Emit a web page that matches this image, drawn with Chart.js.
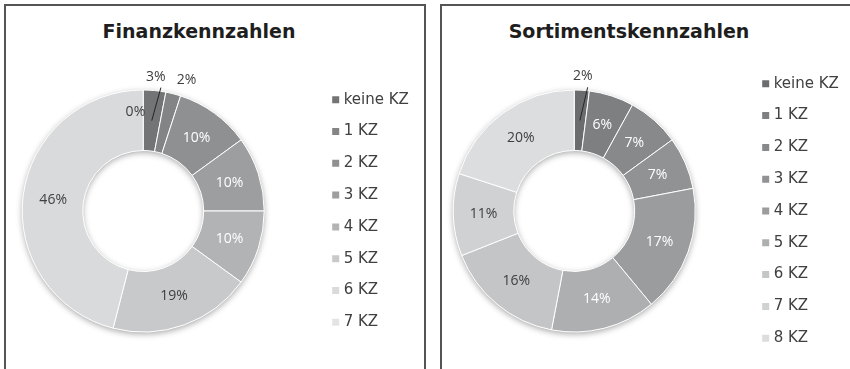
<!DOCTYPE html>
<html lang="de">
<head>
<meta charset="utf-8">
<title>Kennzahlen</title>
<script src="https://cdn.jsdelivr.net/npm/chart.js@4.4.0/dist/chart.umd.min.js"></script>
<style>
  html, body { margin: 0; padding: 0; background: #fff; width: 850px; height: 369px; overflow: hidden; position: relative; }
  .panel { position: absolute; top: 4px; height: 420px; border: 2px solid #555; box-sizing: border-box; }
  #panelFin { left: 4px; width: 422px; }
  #panelSort { left: 440px; width: 420px; }
  .title { position: absolute; top: 21px; transform: translateX(-50%); font: bold 19px "DejaVu Sans", Verdana, sans-serif; line-height: 20px; color: #1e1e1e; white-space: nowrap; }
  canvas { position: absolute; }
</style>
</head>
<body>
<div class="panel" id="panelFin"></div>
<div class="panel" id="panelSort"></div>
<div class="title" style="left:199px">Finanzkennzahlen</div>
<div class="title" style="left:629px">Sortimentskennzahlen</div>
<canvas id="finChart"></canvas>
<canvas id="sortChart"></canvas>
<script>
// Anteile in Prozent
const finLabels = ['keine KZ', '1 KZ', '2 KZ', '3 KZ', '4 KZ', '5 KZ', '6 KZ', '7 KZ'];
const finValues = [3, 2, 10, 10, 10, 19, 46, 0];

const sortLabels = ['keine KZ', '1 KZ', '2 KZ', '3 KZ', '4 KZ', '5 KZ', '6 KZ', '7 KZ', '8 KZ'];
const sortValues = [2, 6, 7, 7, 17, 14, 16, 11, 20];

const finColors = ['#737476', '#838486', '#8f9092', '#9d9ea0', '#b2b3b5', '#c8c9cb', '#d9dadb', '#e3e4e5'];
const sortColors = ['#6b6c6e', '#7e7f81', '#88898b', '#919294', '#9b9c9e', '#aeafb1', '#c4c5c7', '#d0d1d3', '#dcdddf'];

const LEGEND_FONT = { family: '"DejaVu Sans", Verdana, sans-serif', size: 15 };
const LEGEND_PAD = 16.8;

function isDark(hex) {
    return parseInt(hex.slice(1, 3), 16) < 0xb8;
}

// Schatten unter dem Ring
const ringShadow = {
    id: 'ringShadow',
    beforeDatasetsDraw(chart) {
        const arc = chart.getDatasetMeta(0).data[0];
        if (!arc) return;
        const { x, y, innerRadius, outerRadius } = arc.getProps(['x', 'y', 'innerRadius', 'outerRadius'], true);
        const ctx = chart.ctx;
        ctx.save();
        ctx.shadowColor = 'rgba(0, 0, 0, 0.35)';
        ctx.shadowBlur = 6;
        ctx.shadowOffsetY = 2;
        ctx.fillStyle = '#d0d0d0';
        ctx.beginPath();
        ctx.arc(x, y, outerRadius, 0, Math.PI * 2);
        ctx.arc(x, y, innerRadius, 0, Math.PI * 2, true);
        ctx.fill();
        ctx.restore();
    }
};

// Prozentwerte auf den Segmenten
const sliceLabels = {
    id: 'sliceLabels',
    afterDatasetsDraw(chart, args, opts) {
        const ctx = chart.ctx;
        const ds = chart.data.datasets[0];
        ctx.save();
        ctx.font = '14px "Open Sans", sans-serif';
        ctx.textBaseline = 'middle';
        chart.getDatasetMeta(0).data.forEach((arc, i) => {
            const v = ds.data[i];
            const p = arc.getProps(['x', 'y', 'startAngle', 'endAngle', 'innerRadius', 'outerRadius'], true);
            const mid = (p.startAngle + p.endAngle) / 2;
            const ringR = (p.innerRadius + p.outerRadius) / 2;
            let r = ringR, align = 'center', dx = 0;
            let color = isDark(ds.backgroundColor[i]) ? '#ffffff' : '#404040';
            if (v === 0) {
                r = ringR + 8; align = 'right'; dx = 2; color = '#404040';
            } else if (v < 4) {
                r = p.outerRadius + 14; color = '#404040';
                const c = Math.cos(mid);
                if (c > 0.15) align = 'left';
                else if (c < -0.15) align = 'right';
            }
            const lx = p.x + r * Math.cos(mid) + dx;
            const ly = p.y + r * Math.sin(mid);
            if ((opts.leaders || []).includes(i)) {
                ctx.strokeStyle = '#262626';
                ctx.lineWidth = 1;
                ctx.beginPath();
                ctx.moveTo(p.x + ringR * Math.cos(mid), p.y + ringR * Math.sin(mid));
                ctx.lineTo(lx + 5, ly + 11);
                ctx.stroke();
            }
            ctx.fillStyle = color;
            ctx.textAlign = align;
            ctx.fillText(v + '%', lx, ly);
        });
        ctx.restore();
    }
};

function textWidth(labels) {
    const ctx = document.createElement('canvas').getContext('2d');
    ctx.font = Chart.helpers.toFont(LEGEND_FONT).string;
    return Math.max(...labels.map(t => ctx.measureText(t).width));
}

function makeChart(id, labels, values, colors, cx, itemX, leaders) {
    const top = 50, height = 322, width = 456;
    const legendLeft = itemX - LEGEND_PAD;
    const left = 2 * cx - legendLeft;
    const legendWidth = LEGEND_PAD + 1 + LEGEND_FONT.size / 2 + textWidth(labels) + 10;
    const padRight = left + width - (legendLeft + legendWidth);

    const canvas = document.getElementById(id);
    canvas.width = width;
    canvas.height = height;
    canvas.style.left = left + 'px';
    canvas.style.top = top + 'px';

    return new Chart(canvas.getContext('2d'), {
        type: 'doughnut',
        data: {
            labels: labels,
            datasets: [{
                data: values,
                backgroundColor: colors,
                borderColor: '#ffffff',
                borderWidth: 1
            }]
        },
        options: {
            responsive: false,
            animation: false,
            events: [],
            radius: 121,
            cutout: '50%',
            layout: { padding: { left: 0, right: padRight, top: 0, bottom: 0 } },
            plugins: {
                tooltip: { enabled: false },
                sliceLabels: { leaders: leaders },
                legend: {
                    position: 'right',
                    labels: {
                        usePointStyle: true,
                        pointStyle: 'rect',
                        boxWidth: 1,
                        boxHeight: 7,
                        padding: LEGEND_PAD,
                        color: '#404040',
                        font: LEGEND_FONT,
                        generateLabels(chart) {
                            const items = Chart.overrides.doughnut.plugins.legend.labels.generateLabels(chart);
                            items.forEach(it => { it.lineWidth = 0; it.pointStyle = 'rect'; });
                            return items;
                        }
                    }
                }
            }
        },
        plugins: [ringShadow, sliceLabels]
    });
}

makeChart('finChart', finLabels, finValues, finColors, 143, 335, [0]);
makeChart('sortChart', sortLabels, sortValues, sortColors, 574.5, 765.5, [0]);
</script>
</body>
</html>
